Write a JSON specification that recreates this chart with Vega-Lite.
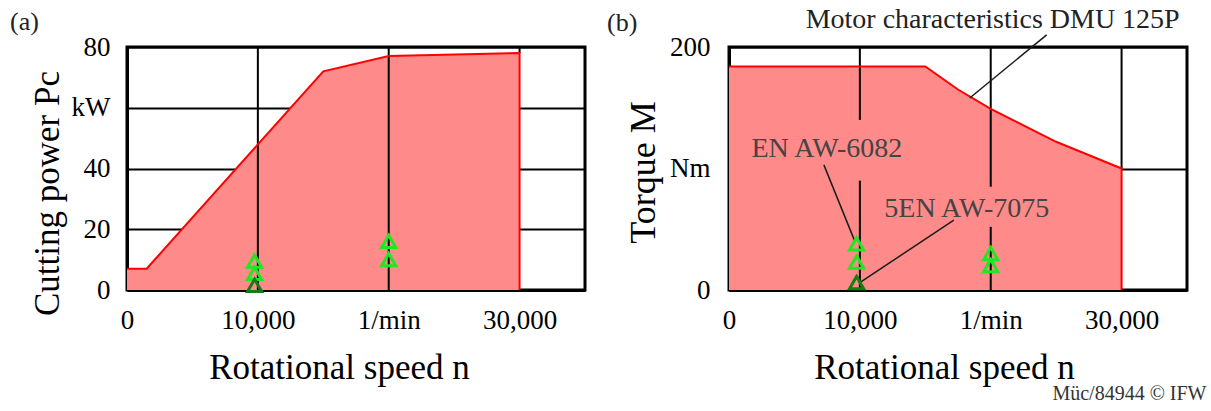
{
  "$schema": "https://vega.github.io/schema/vega-lite/v6.json",
  "background": "white",
  "padding": {"left": 8, "top": 4, "right": 6, "bottom": 4},
  "bounds": "flush",
  "spacing": 144,
  "config": {
    "font": "Liberation Serif",
    "view": {"stroke": "#000000", "strokeWidth": 3},
    "axis": {
      "ticks": false,
      "domainColor": "#000000",
      "domainWidth": 3,
      "labelFontSize": 27,
      "labelColor": "#000000",
      "labelFlush": false,
      "labelOverlap": false,
      "titleFontSize": 35,
      "titleFontWeight": "normal",
      "titleColor": "#000000",
      "titleAlign": "center",
      "titleBaseline": "middle",
      "zindex": 1
    }
  },
  "datasets": {
    "curve_a": [
      {"i": 0, "n": 0, "p": 7},
      {"i": 1, "n": 1500, "p": 7},
      {"i": 2, "n": 15000, "p": 72},
      {"i": 3, "n": 20000, "p": 77},
      {"i": 4, "n": 30000, "p": 78},
      {"i": 5, "n": 30000, "p": 0}
    ],
    "grid_a": [
      {"n": 10000, "p": 0, "p2": 80},
      {"n": 20000, "p": 0, "p2": 80},
      {"n": 30000, "p": 78, "p2": 80}
    ],
    "pts_a": [
      {"n": 9750, "p": 9.5, "alloy": "EN AW-6082"},
      {"n": 9750, "p": 5.5, "alloy": "EN AW-6082"},
      {"n": 9750, "p": 1.5, "alloy": "EN AW-7075"},
      {"n": 20000, "p": 16, "alloy": "EN AW-6082"},
      {"n": 20000, "p": 10, "alloy": "EN AW-6082"}
    ],
    "curve_b": [
      {"i": 0, "n": 0, "m": 184},
      {"i": 1, "n": 15000, "m": 184},
      {"i": 2, "n": 17500, "m": 165},
      {"i": 3, "n": 20000, "m": 149},
      {"i": 4, "n": 25000, "m": 122},
      {"i": 5, "n": 30000, "m": 100},
      {"i": 6, "n": 30000, "m": 0}
    ],
    "grid_b": [
      {"n": 10000, "m": 140, "m2": 200},
      {"n": 10000, "m": 0, "m2": 90},
      {"n": 20000, "m": 85, "m2": 200},
      {"n": 20000, "m": 0, "m2": 52},
      {"n": 30000, "m": 100, "m2": 200}
    ],
    "pts_b": [
      {"n": 9750, "m": 38, "alloy": "EN AW-6082"},
      {"n": 9750, "m": 23, "alloy": "EN AW-6082"},
      {"n": 9750, "m": 6, "alloy": "EN AW-7075"},
      {"n": 20000, "m": 30, "alloy": "EN AW-6082"},
      {"n": 20000, "m": 20, "alloy": "EN AW-6082"}
    ],
    "motor_b": [
      {"n": 20150, "m": 222, "label": "Motor characteristics DMU 125P"}
    ],
    "alloy_b": [
      {"n": 7480, "m": 116, "label": "EN AW-6082"},
      {"n": 18170, "m": 66.7, "label": "5EN AW-7075"}
    ],
    "credit_b": [
      {"n": 36490, "m": -86, "label": "Müc/84944 © IFW"}
    ],
    "lead_b": [
      {"n": 24275, "m": 210, "n2": 18400, "m2": 158},
      {"n": 7250, "m": 103, "n2": 9620, "m2": 40},
      {"n": 17180, "m": 57.6, "n2": 10080, "m2": 6.6}
    ]
  },
  "hconcat": [
    {
      "width": 458,
      "height": 243,
      "title": {"text": "(a)", "anchor": "start", "frame": "group", "dx": -117, "dy": 6, "fontSize": 26, "fontWeight": "normal", "color": "#222222", "offset": 4},
      "encoding": {
        "x": {
          "field": "n", "type": "quantitative",
          "scale": {"domain": [0, 35000], "nice": false, "zero": true},
          "axis": {
            "values": [0, 10000, 20000, 30000],
            "labelExpr": "datum.value == 20000 ? '1/min' : format(datum.value, ',')",
            "title": "Rotational speed n",
            "titleX": 212, "titleY": 77,
            "grid": false,
            "labelPadding": 17
          }
        },
        "y": {
          "field": "p", "type": "quantitative",
          "scale": {"domain": [0, 80], "nice": false},
          "axis": {
            "values": [0, 20, 40, 60, 80],
            "labelExpr": "datum.value == 60 ? 'kW' : datum.label",
            "title": "Cutting power Pc",
            "titleX": -80, "titleY": 146,
            "grid": true, "gridColor": "#000000", "gridWidth": 2, "gridOpacity": 1,
            "labelPadding": 17
          }
        }
      },
      "layer": [
        {
          "data": {"name": "curve_a"},
          "transform": [{"filter": "datum.i < 5"}],
          "mark": {"type": "area", "color": "#ff8a8a", "opacity": 1}
        },
        {
          "data": {"name": "grid_a"},
          "mark": {"type": "rule", "color": "#000000", "strokeWidth": 2},
          "encoding": {"y2": {"field": "p2"}}
        },
        {
          "data": {"name": "curve_a"},
          "mark": {"type": "line", "color": "#ff0000", "strokeWidth": 2},
          "encoding": {"order": {"field": "i", "type": "quantitative"}}
        },
        {
          "data": {"name": "pts_a"},
          "mark": {"type": "point", "shape": "triangle-up", "filled": false, "strokeWidth": 3, "size": 200, "opacity": 1},
          "encoding": {
            "color": {"field": "alloy", "type": "nominal", "scale": {"domain": ["EN AW-6082", "EN AW-7075"], "range": ["#1ee81e", "#137f13"]}, "legend": null}
          }
        }
      ]
    },
    {
      "width": 458,
      "height": 243,
      "title": {"text": "(b)", "anchor": "start", "frame": "group", "dx": -122, "dy": 34, "fontSize": 26, "fontWeight": "normal", "color": "#222222", "offset": 4},
      "encoding": {
        "x": {
          "field": "n", "type": "quantitative",
          "scale": {"domain": [0, 35000], "nice": false, "zero": true},
          "axis": {
            "values": [0, 10000, 20000, 30000],
            "labelExpr": "datum.value == 20000 ? '1/min' : format(datum.value, ',')",
            "title": "Rotational speed n",
            "titleX": 215, "titleY": 77,
            "grid": false,
            "labelPadding": 17
          }
        },
        "y": {
          "field": "m", "type": "quantitative",
          "scale": {"domain": [0, 200], "nice": false},
          "axis": {
            "values": [0, 100, 200],
            "labelExpr": "datum.value == 100 ? 'Nm' : datum.label",
            "title": "Torque M",
            "titleX": -86, "titleY": 125,
            "titleFontSize": 36,
            "grid": true, "gridColor": "#000000", "gridWidth": 2, "gridOpacity": 1,
            "labelPadding": 19
          }
        }
      },
      "layer": [
        {
          "data": {"name": "curve_b"},
          "transform": [{"filter": "datum.i < 6"}],
          "mark": {"type": "area", "color": "#ff8a8a", "opacity": 1}
        },
        {
          "data": {"name": "grid_b"},
          "mark": {"type": "rule", "color": "#000000", "strokeWidth": 2},
          "encoding": {"y2": {"field": "m2"}}
        },
        {
          "data": {"name": "curve_b"},
          "mark": {"type": "line", "color": "#ff0000", "strokeWidth": 2},
          "encoding": {"order": {"field": "i", "type": "quantitative"}}
        },
        {
          "data": {"name": "lead_b"},
          "mark": {"type": "rule", "color": "#1a1a1a", "strokeWidth": 1.5},
          "encoding": {"x2": {"field": "n2"}, "y2": {"field": "m2"}}
        },
        {
          "data": {"name": "motor_b"},
          "mark": {"type": "text", "fontSize": 28, "color": "#222222", "align": "center", "baseline": "middle"},
          "encoding": {"text": {"field": "label", "type": "nominal"}}
        },
        {
          "data": {"name": "alloy_b"},
          "mark": {"type": "text", "fontSize": 28, "color": "#444444", "align": "center", "baseline": "middle"},
          "encoding": {"text": {"field": "label", "type": "nominal"}}
        },
        {
          "data": {"name": "credit_b"},
          "mark": {"type": "text", "fontSize": 20, "color": "#333333", "align": "right", "baseline": "middle"},
          "encoding": {"text": {"field": "label", "type": "nominal"}}
        },
        {
          "data": {"name": "pts_b"},
          "mark": {"type": "point", "shape": "triangle-up", "filled": false, "strokeWidth": 3, "size": 200, "opacity": 1},
          "encoding": {
            "color": {"field": "alloy", "type": "nominal", "scale": {"domain": ["EN AW-6082", "EN AW-7075"], "range": ["#1ee81e", "#137f13"]}, "legend": null}
          }
        }
      ]
    }
  ]
}
